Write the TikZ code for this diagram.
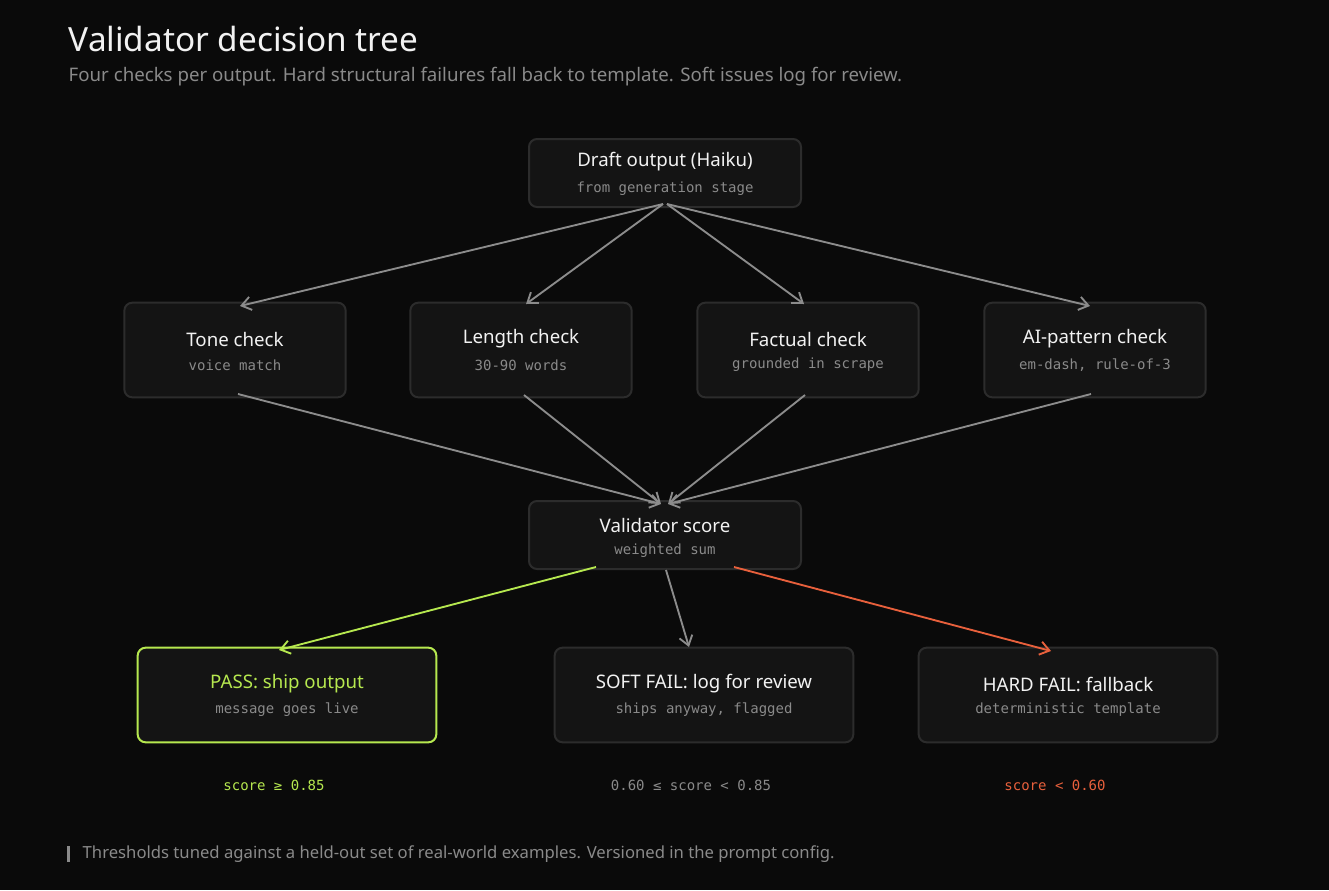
\documentclass[tikz,border=0pt]{standalone}
\usepackage{fontspec}
\setmainfont{Noto Sans}
\setmonofont{DejaVu Sans Mono}
\usetikzlibrary{arrows.meta}
\definecolor{bg}{HTML}{0A0A0A}
\definecolor{nodefill}{HTML}{141414}
\definecolor{nodeedge}{HTML}{2C2C2C}
\definecolor{txt}{HTML}{F2F2F2}
\definecolor{sub}{HTML}{8A8A8A}
\definecolor{arr}{HTML}{8C8C8C}
\definecolor{okc}{HTML}{B6E84F}
\definecolor{bad}{HTML}{E8603C}
\begin{document}
\begin{tikzpicture}[x=0.75pt,y=-0.75pt,
  box/.style={draw=nodeedge,line width=1.5pt,fill=nodefill,rounded corners=6pt,inner sep=0pt},
  ttl/.style={text=txt,font=\bfseries\fontsize{14}{16}\selectfont},
  st/.style={text=sub,font=\ttfamily\fontsize{10.5}{12}\selectfont},
  con/.style={draw=arr,line width=1.4pt,-{Straight Barb[length=7pt,width=10pt]}}]
\fill[bg] (0,0) rectangle (1329,890);
\useasboundingbox (0,0) rectangle (1329,890);
\node[anchor=west,text=txt,font=\bfseries\fontsize{25}{30}\selectfont] (title) at (64,39) {Validator decision tree};
\node[anchor=west,text=sub,font=\fontsize{14}{17}\selectfont] (subtitle) at (64,77) {Four checks per output. Hard structural failures fall back to template. Soft issues log for review.};
% boxes
\newcommand\mybox[7]{%
 \node[box,minimum width=#3*0.75pt,minimum height=#4*0.75pt,#7] (#1) at #2 {};
 \node[ttl,#7text] at ($(#1)+(0,-12)$) {#5};
 \node[st] at ($(#1)+(0,15)$) {#6};}
\node[box,minimum width=204pt,minimum height=51pt] (draft) at (665,173) {};
\node[ttl] (draftT) at (665,162) {Draft output (Haiku)};
\node[st] (draftS) at (665,189) {from generation stage};
\node[box,minimum width=166pt,minimum height=71pt] (tone) at (235,350) {};
\node[ttl] (toneT) at (235,339) {Tone check};
\node[st] (toneS) at (235,365) {voice match};
\node[box,minimum width=166pt,minimum height=71pt] (len) at (521,350) {};
\node[ttl] (lenT) at (521,339) {Length check};
\node[st] (lenS) at (521,365) {30-90 words};
\node[box,minimum width=166pt,minimum height=71pt] (fact) at (808,350) {};
\node[ttl] (factT) at (808,339) {Factual check};
\node[st] (factS) at (808,365) {grounded in scrape};
\node[box,minimum width=166pt,minimum height=71pt] (ai) at (1095,350) {};
\node[ttl] (aiT) at (1095,339) {AI-pattern check};
\node[st] (aiS) at (1095,365) {em-dash, rule-of-3};
\node[box,minimum width=204pt,minimum height=51pt] (val) at (665,535) {};
\node[ttl] (valT) at (665,525) {Validator score};
\node[st] (valS) at (665,551) {weighted sum};
\node[box,draw=okc,minimum width=224pt,minimum height=71pt] (pass) at (287,695) {};
\node[ttl,text=okc] (passT) at (287,684) {PASS: ship output};
\node[st] (passS) at (287,710) {message goes live};
\node[box,minimum width=224pt,minimum height=71pt] (soft) at (704,695) {};
\node[ttl] (softT) at (704,684) {SOFT FAIL: log for review};
\node[st] (softS) at (704,710) {ships anyway, flagged};
\node[box,minimum width=224pt,minimum height=71pt] (hard) at (1068,695) {};
\node[ttl] (hardT) at (1068,684) {HARD FAIL: fallback};
\node[st] (hardS) at (1068,710) {deterministic template};
\node[st,text=okc] (l1) at (274,785) {score ≥ 0.85};
\node[st] (l2) at (691,785) {0.60 ≤ score < 0.85};
\node[st,text=bad] (l3) at (1055,785) {score < 0.60};
\fill[sub] (67,846) rectangle (70,862);
\node[anchor=west,text=sub,font=\fontsize{12.5}{15}\selectfont] (foot) at (78,854) {Thresholds tuned against a held-out set of real-world examples. Versioned in the prompt config.};
% connectors
\coordinate (dA) at (663,204);
\coordinate (dB) at (667,204);
\draw[con] (dA) -- (240,306);
\draw[con] (dA) -- (526,304);
\draw[con] (dB) -- (804,304);
\draw[con] (dB) -- (1090,306);
\coordinate (vA) at (661,504);
\coordinate (vB) at (668,504);
\draw[con] (238,394) -- (vA);
\draw[con] (524,395) -- (vA);
\draw[con] (805,395) -- (vB);
\draw[con] (1091,394) -- (vB);
\draw[con,draw=okc] (596,567) -- (279,650);
\draw[con] (666,570) -- (689,647);
\draw[con,draw=bad] (734,567) -- (1051,651);
\end{tikzpicture}
\end{document}
